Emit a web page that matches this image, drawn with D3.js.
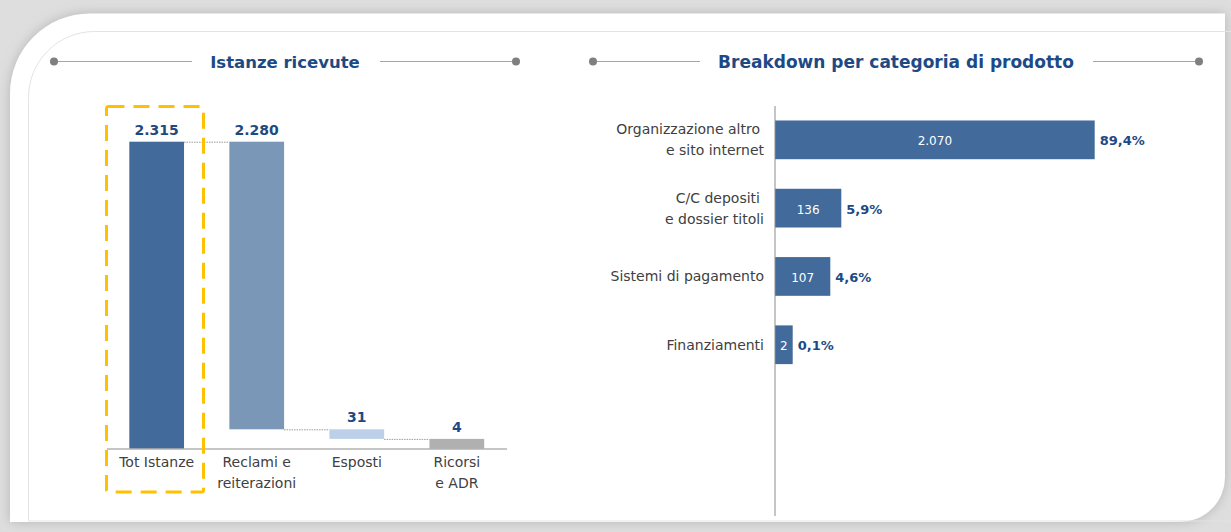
<!DOCTYPE html>
<html>
<head>
<meta charset="utf-8">
<script src="https://cdn.jsdelivr.net/npm/d3@7"></script>
<style>
  body { margin: 0; background: #dedede; }
  svg { display: block; font-family: "DejaVu Sans", sans-serif; }
</style>
</head>
<body>
<script>
// data
var waterfallCats = ["Tot Istanze", "Reclami e|reiterazioni", "Esposti", "Ricorsi|e ADR"];
var waterfallValues = [2315, 2280, 31, 4];

var productCats = ["Organizzazione altro|e sito internet", "C/C depositi|e dossier titoli", "Sistemi di pagamento", "Finanziamenti"];
var productValues = [2070, 136, 107, 2];
var productShares = [89.4, 5.9, 4.6, 0.1];

var titles = ["Istanze ricevute", "Breakdown per categoria di prodotto"];

var it = d3.formatLocale({ decimal: ",", thousands: ".", grouping: [3], currency: ["", " €"] });
var fmtInt = it.format(",d");
var fmtPct = it.format(".1f");

var width = 1231, height = 532;
var navy = "#1d4a85";
var textGray = "#404040";

var svg = d3.select("body").append("svg")
    .attr("width", width)
    .attr("height", height);

var defs = svg.append("defs");
var f = defs.append("filter").attr("id", "shadow").attr("x", "-5%").attr("y", "-5%").attr("width", "110%").attr("height", "110%");
f.append("feDropShadow").attr("dx", 0).attr("dy", 0).attr("stdDeviation", 6).attr("flood-color", "#9a9a9a").attr("flood-opacity", 0.6);

// panel (rounded top-left and bottom-right)
function panelPath(x0, y0, x1, y1, rTL, rBR) {
    var p = "M" + (x0 + rTL) + "," + y0 + " L" + x1 + "," + y0;
    if (rBR > 0) {
        p += " L" + x1 + "," + (y1 - rBR) + " A" + rBR + "," + rBR + " 0 0 1 " + (x1 - rBR) + "," + y1;
    } else {
        p += " L" + x1 + "," + y1;
    }
    p += " L" + x0 + "," + y1 + " L" + x0 + "," + (y0 + rTL) +
        " A" + rTL + "," + rTL + " 0 0 1 " + (x0 + rTL) + "," + y0 + " Z";
    return p;
}
svg.append("path")
    .attr("d", panelPath(10, 13.5, 1225, 522, 80, 45))
    .attr("fill", "#ffffff")
    .attr("filter", "url(#shadow)");
svg.append("path")
    .attr("d", panelPath(28.5, 31.5, 1236, 521, 66, 0))
    .attr("fill", "none")
    .attr("stroke", "#e3e3e3")
    .attr("stroke-width", 1);

// section headers
function header(cx, lx0, lx1, rx0, rx1, label, size) {
    var g = svg.append("g");
    [[lx0, lx1], [rx0, rx1]].forEach(function(seg) {
        g.append("line")
            .attr("x1", seg[0]).attr("x2", seg[1])
            .attr("y1", 61.5).attr("y2", 61.5)
            .attr("stroke", "#a6a6a6").attr("stroke-width", 1.2);
    });
    g.append("circle").attr("cx", lx0).attr("cy", 61.5).attr("r", 4).attr("fill", "#7f7f7f");
    g.append("circle").attr("cx", rx1).attr("cy", 61.5).attr("r", 4).attr("fill", "#7f7f7f");
    g.append("text")
        .attr("x", cx).attr("y", 67.5)
        .attr("text-anchor", "middle")
        .attr("fill", navy)
        .style("font-size", size + "px")
        .style("font-weight", "bold")
        .text(label);
}
header(285, 54, 192, 380, 516, titles[0], 16.5);
header(896, 593, 700, 1093, 1199, titles[1], 17);

// ---- left: waterfall ----
var total = waterfallValues[0];
var levels = [0];
// bars from the right: bar4 0..4, bar3 4..35, bar2 35..2315
for (var i = waterfallValues.length - 1; i >= 1; i--) {
    levels.push(levels[levels.length - 1] + waterfallValues[i]);
}
// small segments get a minimum visible height, as in the original slide
var baseY = 448.5, topY = 141.7, minStep = 9.6;
var yRange = levels.map(function(d, i) { return i < levels.length - 1 ? baseY - i * minStep : topY; });
var yW = d3.scaleLinear().domain(levels).range(yRange);

var xW = d3.scaleBand()
    .domain(waterfallCats)
    .range([107, 506.5])
    .paddingInner(0.453)
    .paddingOuter(0.223);

var wColors = ["#426a9a", "#7a97b8", "#bdd0e9", "#b0b0b0"];

var wData = waterfallCats.map(function(c, i) {
    var lo, hi;
    if (i === 0) { lo = 0; hi = total; }
    else {
        hi = levels[waterfallValues.length - i];
        lo = hi - waterfallValues[i];
    }
    return { cat: c, value: waterfallValues[i], lo: lo, hi: hi, color: wColors[i] };
});

var gW = svg.append("g");

// connectors
wData.forEach(function(d, i) {
    if (i === wData.length - 1) return;
    var next = wData[i + 1];
    gW.append("line")
        .attr("x1", xW(d.cat) + xW.bandwidth())
        .attr("x2", xW(next.cat))
        .attr("y1", yW(next.hi) + 0.5).attr("y2", yW(next.hi) + 0.5)
        .attr("stroke", "#9a9a9a")
        .attr("stroke-width", 1)
        .attr("stroke-dasharray", "1.5,1");
});

gW.selectAll(".wbar")
    .data(wData)
    .enter().append("rect")
    .attr("class", "wbar")
    .attr("x", function(d) { return xW(d.cat); })
    .attr("width", xW.bandwidth())
    .attr("y", function(d) { return yW(d.hi); })
    .attr("height", function(d) { return yW(d.lo) - yW(d.hi); })
    .attr("fill", function(d) { return d.color; });

gW.append("line")
    .attr("x1", 107).attr("x2", 507)
    .attr("y1", baseY + 0.5).attr("y2", baseY + 0.5)
    .attr("stroke", "#8c8c8c").attr("stroke-width", 1);

gW.selectAll(".wval")
    .data(wData)
    .enter().append("text")
    .attr("class", "wval")
    .attr("x", function(d) { return xW(d.cat) + xW.bandwidth() / 2; })
    .attr("y", function(d) { return yW(d.hi) - 7; })
    .attr("text-anchor", "middle")
    .attr("fill", navy)
    .style("font-size", "14px")
    .style("font-weight", "bold")
    .text(function(d) { return fmtInt(d.value); });

gW.selectAll(".wcat")
    .data(wData)
    .enter().append("text")
    .attr("class", "wcat")
    .attr("x", function(d) { return xW(d.cat) + xW.bandwidth() / 2; })
    .attr("y", 467)
    .attr("text-anchor", "middle")
    .attr("fill", textGray)
    .style("font-size", "14px")
    .each(function(d) {
        var t = d3.select(this);
        var cx = xW(d.cat) + xW.bandwidth() / 2;
        d.cat.split("|").forEach(function(line, j) {
            t.append("tspan").attr("x", cx).attr("dy", j === 0 ? 0 : 20.5).text(line);
        });
    });

// highlight box around total
gW.append("rect")
    .attr("x", 106.5).attr("y", 106.5)
    .attr("width", 97).attr("height", 385.5)
    .attr("rx", 2)
    .attr("fill", "none")
    .attr("stroke", "#ffc000")
    .attr("stroke-width", 3)
    .attr("stroke-dasharray", "16,9");

// ---- right: horizontal bars ----
var sorted = productValues.slice().sort(d3.ascending);
var xDomain = [0].concat(sorted);
// uneven stretch of the original slide, kept via a piecewise scale
var xP = d3.scaleLinear().domain(xDomain).range([775, 792.7, 830.3, 841.3, 1094.7]);

var yP = d3.scaleBand()
    .domain(productCats)
    .range([106, 378.6])
    .paddingInner(0.433)
    .paddingOuter(0.212);

var pData = productCats.map(function(c, i) {
    return { cat: c, value: productValues[i], share: productShares[i] };
});

var gP = svg.append("g");

gP.selectAll(".pbar")
    .data(pData)
    .enter().append("rect")
    .attr("class", "pbar")
    .attr("x", xP(0))
    .attr("y", function(d) { return yP(d.cat); })
    .attr("width", function(d) { return xP(d.value) - xP(0); })
    .attr("height", yP.bandwidth())
    .attr("fill", "#426a9a");

gP.append("line")
    .attr("x1", 775).attr("x2", 775)
    .attr("y1", 106).attr("y2", 516)
    .attr("stroke", "#8c8c8c").attr("stroke-width", 1);

gP.selectAll(".pval")
    .data(pData)
    .enter().append("text")
    .attr("class", "pval")
    .attr("x", function(d) { return (xP(0) + xP(d.value)) / 2; })
    .attr("y", function(d) { return yP(d.cat) + yP.bandwidth() / 2 + 5.5; })
    .attr("text-anchor", "middle")
    .attr("fill", "#ffffff")
    .style("font-size", "12px")
    .text(function(d) { return fmtInt(d.value); });

gP.selectAll(".pshare")
    .data(pData)
    .enter().append("text")
    .attr("class", "pshare")
    .attr("x", function(d) { return xP(d.value) + 5; })
    .attr("y", function(d) { return yP(d.cat) + yP.bandwidth() / 2 + 5.5; })
    .attr("fill", navy)
    .style("font-size", "13px")
    .style("font-weight", "bold")
    .text(function(d) { return fmtPct(d.share) + "%"; });

gP.selectAll(".pcat")
    .data(pData)
    .enter().append("text")
    .attr("class", "pcat")
    .attr("text-anchor", "end")
    .attr("fill", textGray)
    .style("font-size", "14px")
    .each(function(d) {
        var t = d3.select(this);
        var lines = d.cat.split("|");
        var cy = yP(d.cat) + yP.bandwidth() / 2;
        lines.forEach(function(line, j) {
            t.append("tspan")
                .attr("x", j === 0 && lines.length > 1 ? 760 : 764)
                .attr("y", cy + 5 + (j - (lines.length - 1) / 2) * 21)
                .text(line);
        });
    });
</script>
</body>
</html>
